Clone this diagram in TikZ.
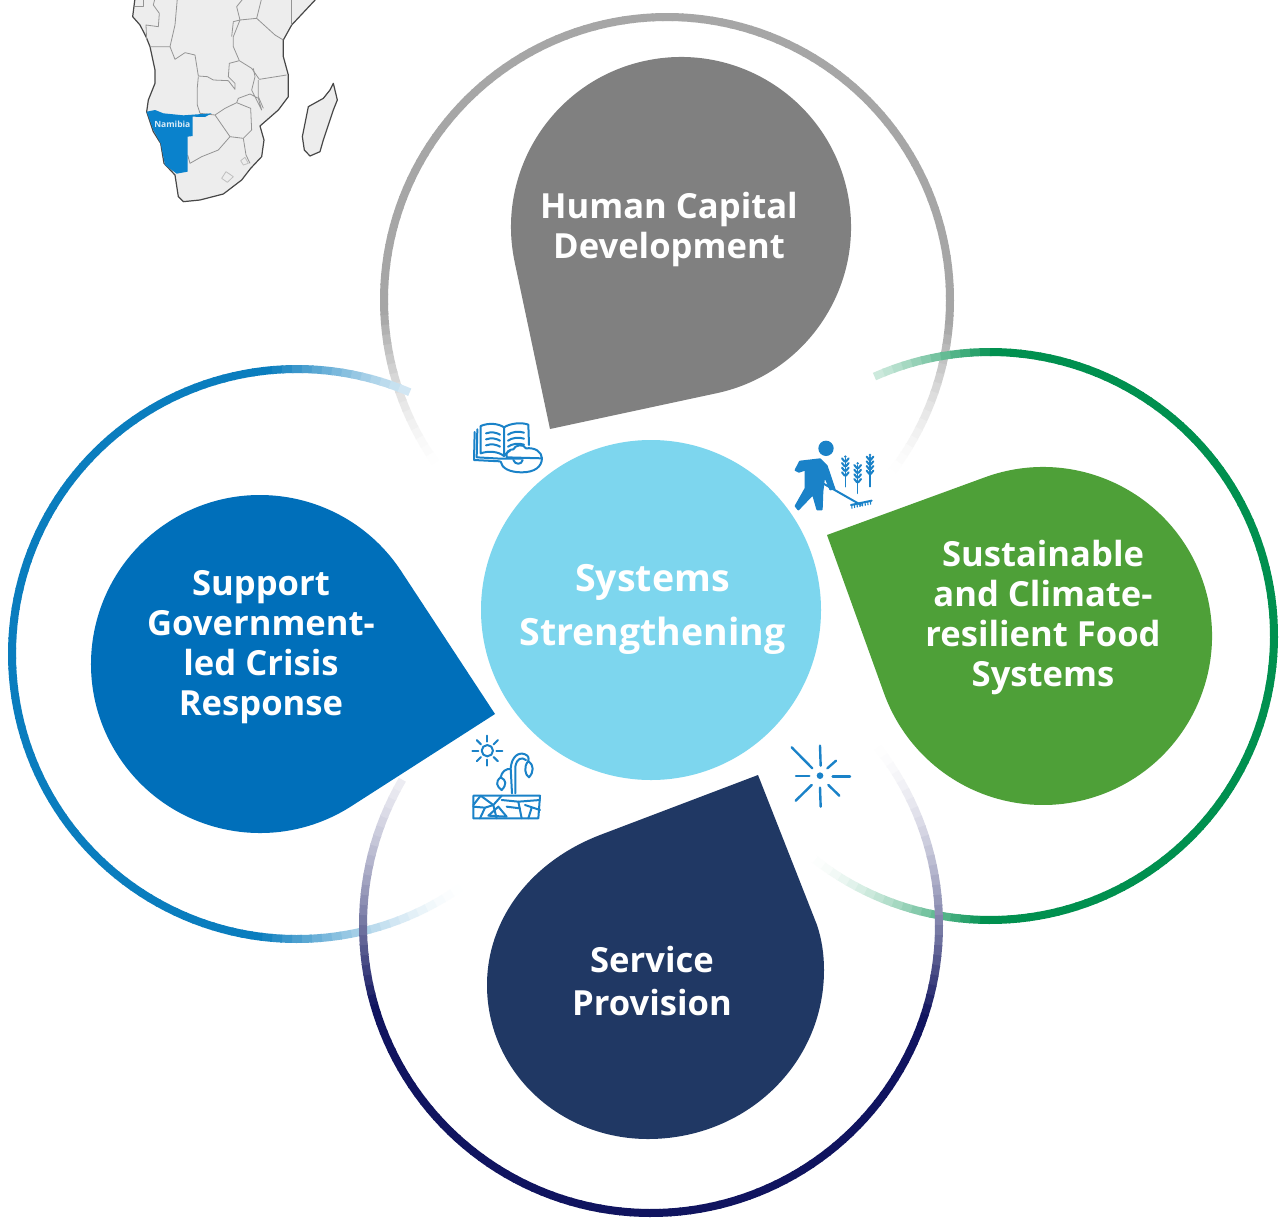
\documentclass[tikz,border=0pt]{standalone}
\usepackage{fontspec}
\setmainfont{Open Sans}
\definecolor{greydrop}{HTML}{808080}
\definecolor{bluedrop}{HTML}{006FBA}
\definecolor{greendrop}{HTML}{4EA038}
\definecolor{navydrop}{HTML}{203864}
\definecolor{centrefill}{HTML}{7DD6EE}
\definecolor{greyring}{HTML}{A6A6A6}
\definecolor{bluering}{HTML}{0A7DBE}
\definecolor{greenring}{HTML}{00904F}
\definecolor{navyring}{HTML}{10145F}
\definecolor{iconblue}{HTML}{1A82C8}
\definecolor{mapfill}{HTML}{EDEDED}
\definecolor{namibia}{HTML}{0A82CC}
\tikzset{
  droplabel/.style={text=white,font=\fontsize{34.6}{40}\selectfont\bfseries,align=center,inner sep=0pt},
  icon/.style={draw=iconblue,line width=2pt,line cap=round,line join=round,fill=none},
  coast/.style={draw=black!72,line width=1.2pt,line join=round,fill=mapfill},
  border/.style={draw=black!42,line width=0.8pt,line join=round},
  zoomed/.style={x=0.33333pt,y=-0.33333pt}
}
\newcommand{\ringarc}[9]{%
  \foreach \ang in {#5,...,#6}{%
    \pgfmathsetmacro\px{#1+#3*cos(\ang)}%
    \pgfmathsetmacro\py{#2+#3*sin(\ang)}%
    \pgfmathsetmacro\pos{#7 ? \px : \py}%
    \pgfmathsetmacro\fval{max(0,min(1,(\pos-(#8))/((#9)-(#8))))}%
    \pgfmathsetmacro\tval{100*\fval*sqrt(\fval)}%
    \draw[line width=8pt,color={#4!\tval!white}] (\px,\py) arc[start angle=\ang,delta angle=2.3,radius=#3];
  }}
\newcommand{\teardrop}[6]{%
  \pgfmathsetmacro\thet{atan2((#6)-(#3),(#5)-(#2))}%
  \pgfmathsetmacro\dist{veclen((#6)-(#3),(#5)-(#2))}%
  \pgfmathsetmacro\phia{acos((#4)/\dist)}%
  \pgfmathsetmacro\sa{\thet+\phia}%
  \pgfmathsetmacro\da{360-2*\phia}%
  \fill[#1] (#5,#6) -- ({#2+#4*cos(\sa)},{#3+#4*sin(\sa)}) arc[start angle=\sa,delta angle=\da,radius=#4] -- cycle;
}
\begin{document}
\begin{tikzpicture}[x=1pt,y=-1pt]
\useasboundingbox (0,0) rectangle (1281,1218);
\clip (0,0) rectangle (1281,1218);
\fill[white] (0,0) rectangle (1281,1218);

% rings
\ringarc{667}{300}{283}{greyring}{143,145}{397}{0}{472}{320}
\ringarc{990}{636}{284}{greenring}{-114,-112}{132}{1}{815}{990}
\ringarc{297}{654}{285}{bluering}{51,53}{292}{1}{465}{265}
\ringarc{651}{925}{288}{navyring}{-44,-42}{208}{0}{740}{1010}

% map
\begin{scope}[zoomed,xshift=120pt]
\path[coast] (45,-5) -- (38,50) -- (60,75) -- (78,110) -- (90,140) -- (105,210) -- (105,250) -- (85,300) -- (80,335) -- (100,395) -- (122,430) -- (132,490) -- (165,525) -- (175,590) -- (190,605) -- (240,600) -- (310,582) -- (365,540) -- (392,505) -- (425,470) -- (432,420) -- (420,378) -- (475,330) -- (505,290) -- (505,225) -- (490,170) -- (490,120) -- (515,75) -- (590,-5) -- cycle;
\path[coast] (640,250) -- (652,300) -- (640,330) -- (610,420) -- (600,455) -- (570,468) -- (553,450) -- (547,410) -- (565,320) -- (610,295) -- (630,270) -- cycle;
\draw[border] (90,140) -- (150,140) -- (165,178) -- (195,158) -- (225,165) -- (235,228) -- (262,230) -- (280,240) -- (325,242) -- (345,268) -- (345,250) -- (325,230) -- (328,190) -- (358,182) -- (395,205) -- (418,238) -- (500,225);
\draw[border] (235,230) -- (232,262) -- (232,315) -- (240,340);
\draw[border] (240,340) -- (285,345) -- (315,325) -- (350,308) -- (392,325) -- (395,390) -- (370,415) -- (330,410) -- (285,345);
\draw[border] (350,308) -- (355,295) -- (390,282) -- (415,295) -- (425,330) -- (395,270) -- (405,230) -- (400,205);
\draw[border] (415,240) -- (415,290) -- (430,325);
\draw[border] (330,410) -- (295,450) -- (245,470) -- (210,490) -- (203,465);
\draw[border] (370,415) -- (378,465) -- (390,490);
\draw[border] (358,182) -- (340,140) -- (340,110) -- (360,60) -- (410,55) -- (465,105) -- (490,120);
\draw[border] (335,110) -- (340,65) -- (360,60);
\draw[border] (360,60) -- (350,20) -- (370,-5);
\draw[border] (410,55) -- (425,-5);
\draw[border] (515,75) -- (515,-5);
\draw[border] (150,140) -- (165,75) -- (172,-5);
\draw[border] (80,120) -- (78,75) -- (115,80) -- (118,40) -- (100,15) -- (105,-5);
\draw[border] (45,20) -- (70,20) -- (70,-5);
\draw[border,draw=black!25] (305,535) -- (318,515) -- (340,530) -- (322,547) -- cycle;
\draw[border,draw=black!25] (362,482) -- (375,472) -- (385,490) -- (370,495) -- cycle;
\fill[namibia] (80,335) -- (105,330) -- (130,340) -- (190,346) -- (275,340) -- (255,351) -- (218,350) -- (218,408) -- (203,410) -- (203,515) -- (170,521) -- (135,495) -- (122,430) -- (100,390) -- cycle;
\node[text=white!85!namibia,font=\fontsize{8.5}{10}\selectfont\bfseries,inner sep=0pt] (namibialabel) at (157,372) {Namibia};
\end{scope}

% teardrops
\teardrop{greydrop}{681}{227}{170}{550}{429}
\teardrop{bluedrop}{260}{664}{169}{495}{714}
\teardrop{greendrop}{1043}{636}{169}{827}{535}
\fill[navydrop] (758,775) -- (600,835) .. controls (530,862) and (487,920) .. (487,985) .. controls (487,1072) and (560,1139) .. (648,1139) .. controls (745,1139) and (824,1065) .. (824,970) .. controls (824,955) and (822,940) .. (817,925) -- cycle;

% centre
\fill[centrefill] (651,610) circle[radius=170];

% labels
\node[droplabel] (human) at (669,229.5) {Human Capital\\Development};
\node[droplabel] (support) at (261,647) {Support\\Government-\\led Crisis\\Response};
\node[droplabel] (food) at (1043,617.5) {Sustainable\\and Climate-\\resilient Food\\Systems};
\node[droplabel,font=\fontsize{34.6}{43}\selectfont\bfseries] (service) at (652,981) {Service\\Provision};
\node[droplabel,font=\fontsize{37.5}{54}\selectfont\bfseries] (systems) at (652.5,609) {Systems\\Strengthening};

% book icon
\begin{scope}[zoomed,xshift=460pt,yshift=-410pt]
\draw[icon] (62,48) .. controls (85,38) and (115,40) .. (132,52) .. controls (150,40) and (185,36) .. (205,44) -- (207,105);
\draw[icon] (62,48) -- (62,130) .. controls (85,122) and (115,124) .. (132,138) -- (132,52);
\draw[icon] (132,138) .. controls (137,132) and (140,128) .. (150,122);
\draw[icon] (52,58) -- (50,142) -- (122,146) -- (185,146);
\draw[icon] (44,66) -- (42,150) -- (120,154);
\foreach \yy in {70,88,106}{
  \draw[icon] (78,\yy) .. controls (95,\yy-6) and (110,\yy-2) .. (120,\yy+4);
  \draw[icon] (144,\yy+4) .. controls (155,\yy-4) and (175,\yy-8) .. (192,\yy-2);
}
\draw[icon] (140,142) .. controls (135,125) and (150,118) .. (160,118) .. controls (165,105) and (190,100) .. (198,115) .. controls (225,112) and (245,125) .. (246,145) -- (140,142);
\draw[icon] (122,155) .. controls (125,175) and (150,187) .. (185,187) .. controls (225,187) and (245,170) .. (246,145);
\draw[icon] (160,150) .. controls (165,165) and (185,165) .. (188,150);
\end{scope}

% farmer icon
\begin{scope}[zoomed,xshift=785pt,yshift=-430pt]
\fill[iconblue] (123,55) circle[radius=23];
\filldraw[iconblue,line width=2pt,line join=round] (32,120) -- (45,95) -- (105,88) -- (125,108) -- (148,176) -- (136,178) -- (118,135) -- (112,185) -- (110,238) -- (97,238) -- (84,192) -- (40,238) -- (32,228) -- (62,175) -- (62,118) -- (42,125) -- cycle;
\draw[iconblue,line width=2pt,line cap=round] (105,155) -- (228,225);
\draw[iconblue,line width=2pt,line cap=round] (198,225) -- (260,212);
\foreach \tx in {200,208,...,256}{
  \draw[iconblue,line width=1.1pt] (\tx,224-0.21*\tx+41.6) -- ++(1,12);
}
\foreach \sx/\st/\sb in {181/75/170,218/95/190,255/70/170}{
  \draw[iconblue,line width=1.5pt,line cap=round] (\sx,\st+10) -- (\sx,\sb);
  \foreach \dy in {0,14,28,42}{
    \draw[iconblue,line width=2pt,line cap=round] (\sx-2,\st+20+\dy) -- (\sx-10,\st+10+\dy);
    \draw[iconblue,line width=2pt,line cap=round] (\sx+2,\st+20+\dy) -- (\sx+10,\st+10+\dy);
  }
  \fill[iconblue] (\sx,\st+5) circle[radius=4];
}
\end{scope}

% sun and plant icon
\begin{scope}[zoomed,xshift=460pt,yshift=-725pt]
\draw[icon] (82,77) circle[radius=17];
\foreach \aa in {0,45,...,315}{
  \draw[icon] ({82+27*cos(\aa)},{77+27*sin(\aa)}) -- ({82+45*cos(\aa)},{77+45*sin(\aa)});
}
\draw[icon] (156,205) -- (152,130) .. controls (155,95) and (175,80) .. (195,88) .. controls (205,92) and (207,98) .. (205,108);
\draw[icon] (166,205) -- (166,125) .. controls (170,100) and (185,95) .. (198,105);
\draw[icon] (205,108) .. controls (190,125) and (195,150) .. (207,157) .. controls (222,140) and (222,120) .. (205,108);
\draw[icon] (152,132) .. controls (138,130) and (125,140) .. (122,157);
\draw[icon] (122,157) .. controls (105,170) and (110,185) .. (125,195) .. controls (140,180) and (140,165) .. (122,157);
\draw[icon] (40,212) -- (240,212) -- (235,280) -- (40,280) -- cycle;
\draw[icon] (40,240) -- (62,212) -- (100,240) -- (125,212);
\draw[icon] (40,245) -- (75,248) -- (100,240) -- (110,280);
\draw[icon] (75,248) -- (60,280);
\draw[icon] (85,272) -- (115,245) -- (140,275) -- cycle;
\draw[icon] (125,225) -- (175,230) -- (240,225);
\draw[icon] (175,230) -- (185,280);
\draw[icon] (140,245) -- (180,250);
\draw[icon] (195,240) -- (240,255);
\draw[icon] (205,280) -- (215,248);
\end{scope}

% spark icon
\begin{scope}[zoomed,xshift=780pt,yshift=-735pt]
\fill[iconblue] (120,122) circle[radius=10];
\foreach \xa/\ya/\xb/\yb in {35/37/97/100,120/32/122/92,142/100/168/77,158/124/210/124,145/150/178/182,120/158/122/215,95/150/47/197,48/123/88/123}{
  \draw[iconblue,line width=2.4pt,line cap=round] (\xa,\ya) -- (\xb,\yb);
}
\end{scope}
\end{tikzpicture}
\end{document}
